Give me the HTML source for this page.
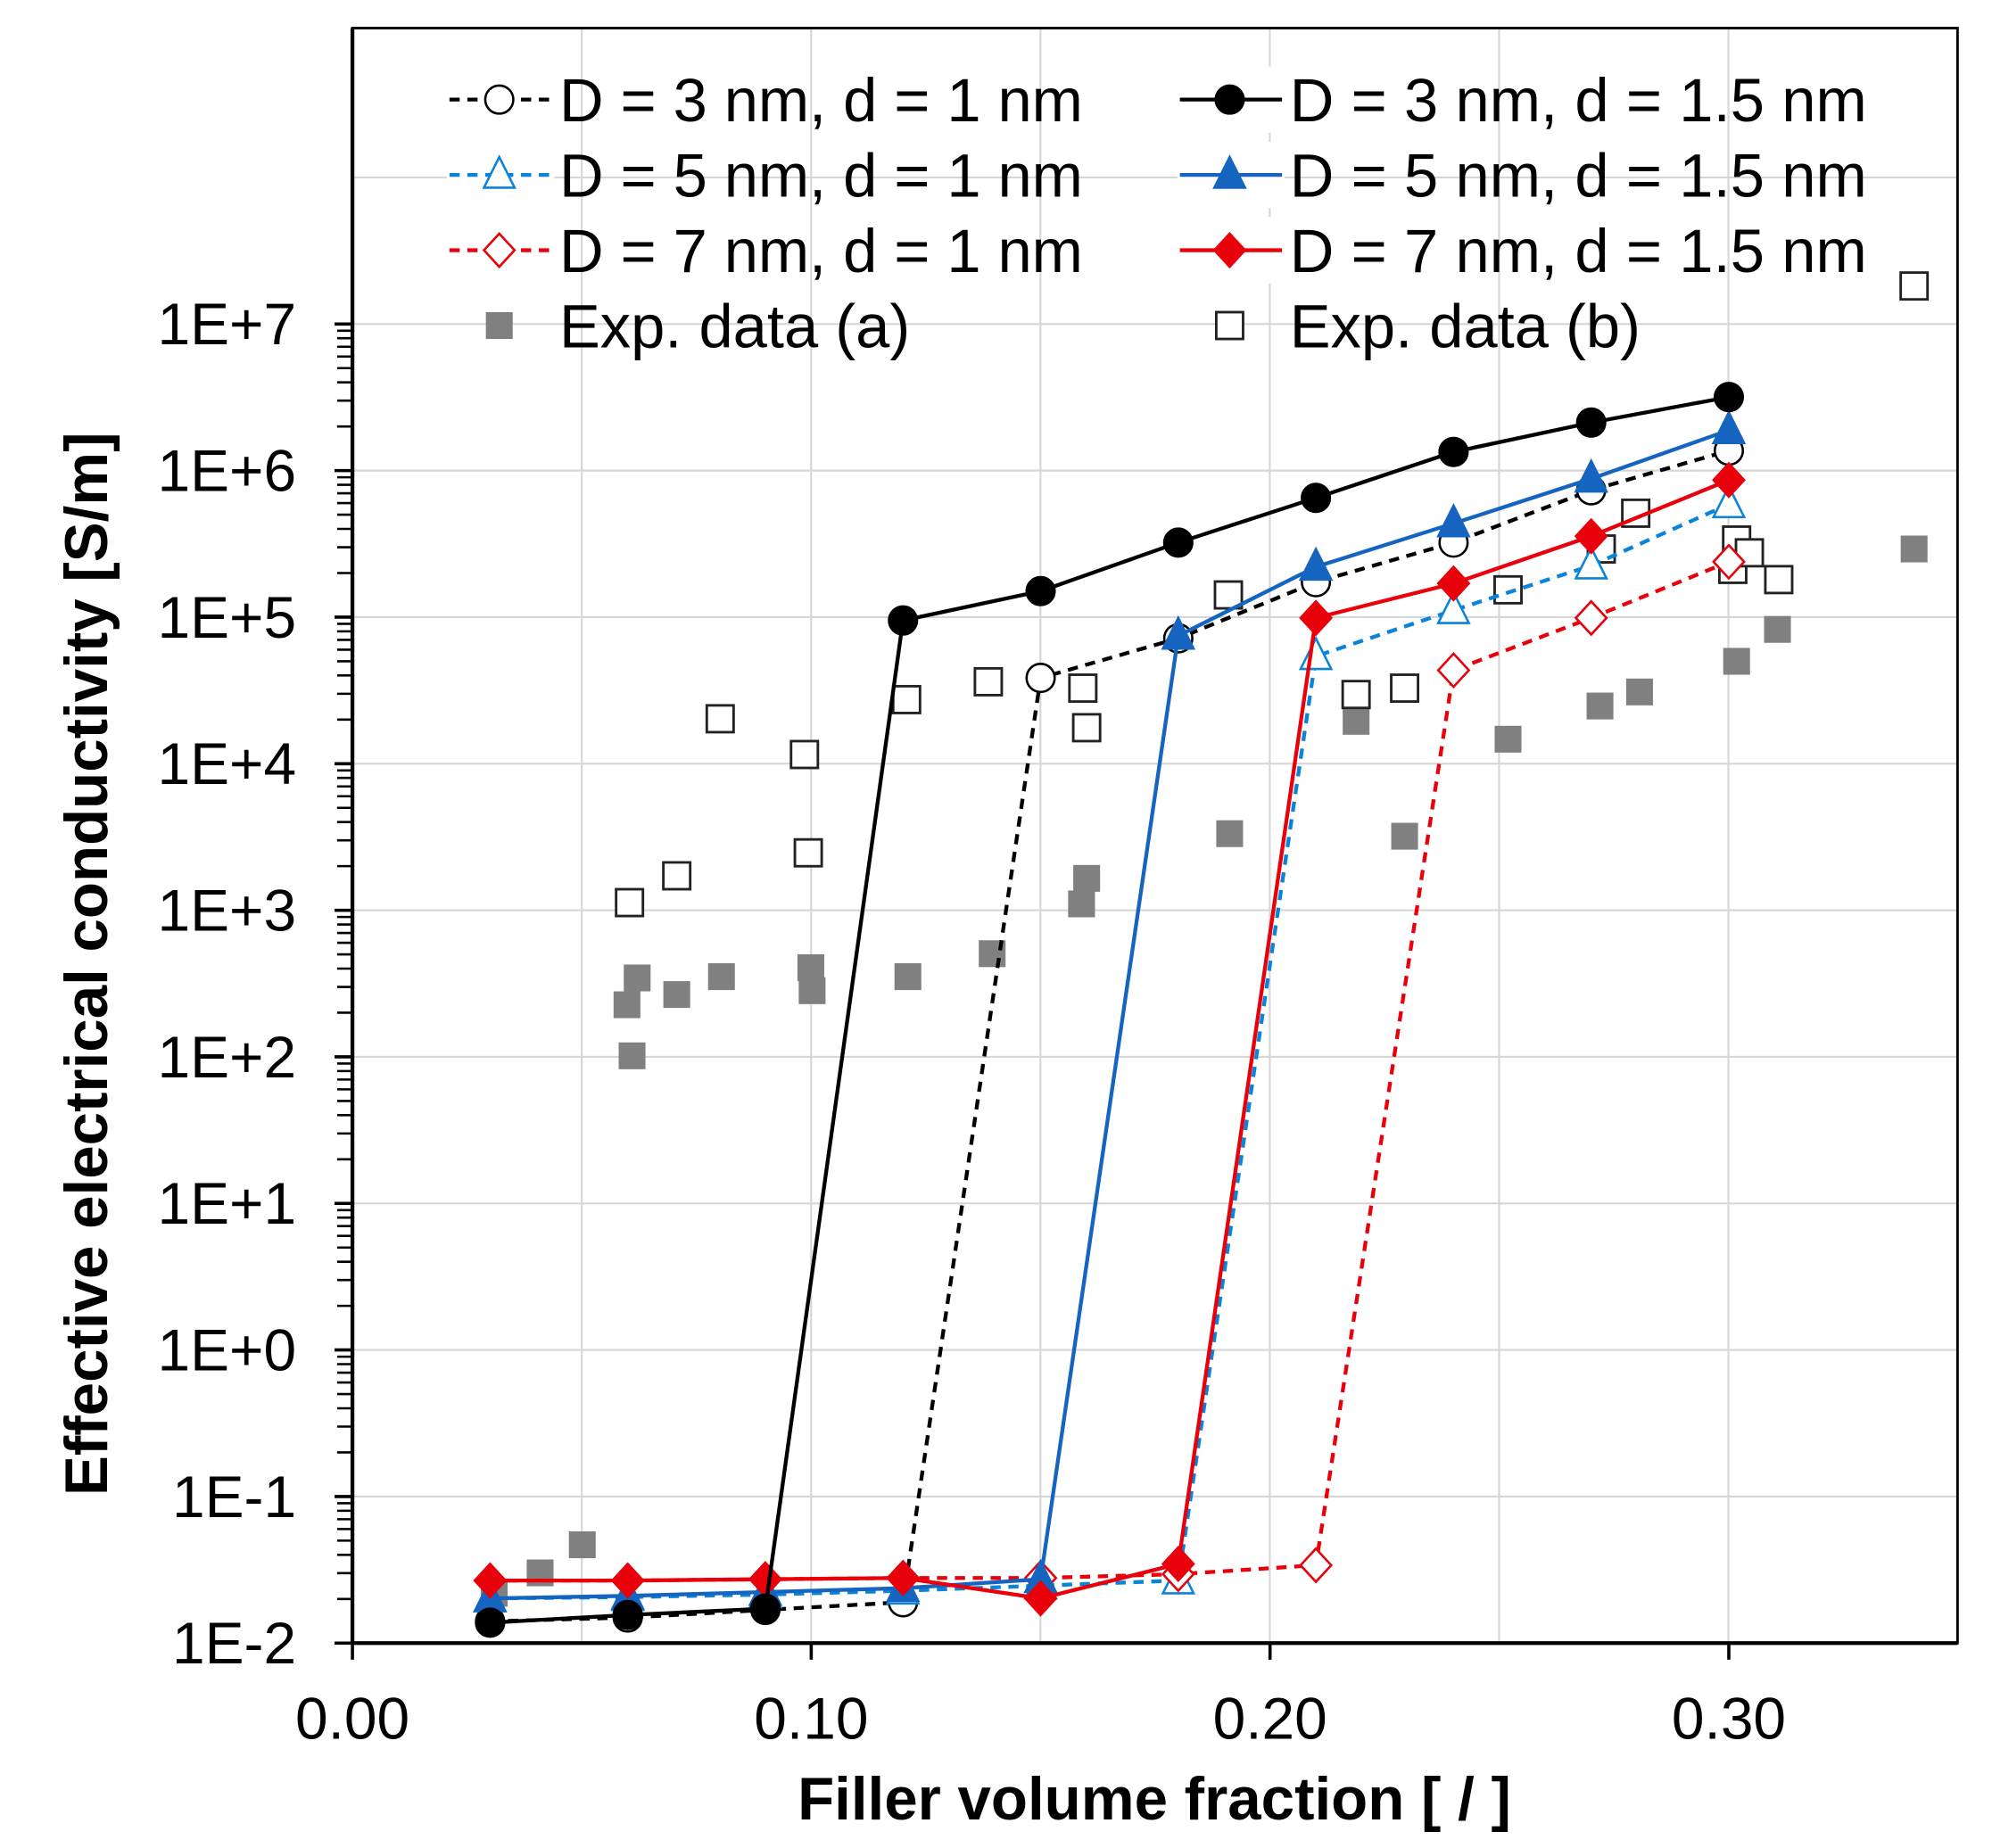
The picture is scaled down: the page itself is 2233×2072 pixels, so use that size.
<!DOCTYPE html>
<html><head><meta charset="utf-8"><style>html,body{margin:0;padding:0;background:#fff}svg{display:block}</style></head>
<body>
<svg id="s" xmlns="http://www.w3.org/2000/svg" width="2233" height="2072" viewBox="0 0 1560 1447.5" preserveAspectRatio="none" font-family="Liberation Sans, Arial, sans-serif"></svg>
<script>
var s=document.getElementById('s'),h='';
function X(v){return 276+v*3593;}
function Y(l){return 1287-(l+2)*114.8;}
for(var k=1;k<=7;k++){var gx=276+k*179.6;h+='<line x1="'+gx+'" y1="22" x2="'+gx+'" y2="1287" stroke="#d6d6d6" stroke-width="1.5"/>';}
for(var d=-1;d<=8;d++){var gy=Y(d);h+='<line x1="276" y1="'+gy+'" x2="1533" y2="'+gy+'" stroke="#d6d6d6" stroke-width="1.5"/>';}
h+='<rect x="276" y="22" width="1257" height="1265" fill="none" stroke="#000" stroke-width="2"/>';
h+='<line x1="276" y1="22" x2="276" y2="1287" stroke="#000" stroke-width="3"/><line x1="276" y1="1287" x2="1533" y2="1287" stroke="#000" stroke-width="3"/>';
for(var d=-2;d<=7;d++){var y0=Y(d);h+='<line x1="262" y1="'+y0+'" x2="276" y2="'+y0+'" stroke="#000" stroke-width="2.5"/>';
 if(d<7)for(var m=2;m<=9;m++){var ym=Y(d+Math.log10(m));h+='<line x1="264" y1="'+ym+'" x2="276" y2="'+ym+'" stroke="#000" stroke-width="1.8"/>';}
 var lab=d<0?'1E'+d:'1E+'+d;h+='<text x="232" y="'+(y0+16)+'" font-size="46" text-anchor="end">'+lab+'</text>';}
['0.00','0.10','0.20','0.30'].forEach(function(t,i){var x=276+i*359.3;h+='<line x1="'+x+'" y1="1287" x2="'+x+'" y2="1300" stroke="#000" stroke-width="2.5"/><text x="'+x+'" y="1362" font-size="46" text-anchor="middle">'+t+'</text>';});
h+='<text x="904" y="1425" font-size="47" font-weight="bold" text-anchor="middle">Filler volume fraction [ / ]</text>';
h+='<text transform="translate(84,755) rotate(-90)" font-size="47" font-weight="bold" text-anchor="middle">Effective electrical conductivity [S/m]</text>';
function sq(x,y,fill){return '<rect x="'+(x-10.5)+'" y="'+(y-10.5)+'" width="21" height="21" fill="'+fill+'" stroke="'+(fill=='#fff'?'#222':'none')+'" stroke-width="2"/>';}
[[387,1248],[423,1232],[456,1210],[491,787],[495,827],[499,766],[530,779],[565,765],[635,758],[636,776],[711,765],[777,747],[847,708],[851,688],[963,653],[1062,565],[1100,655],[1181,579],[1253,553],[1284,542],[1360,518],[1392,493],[1499,430]].forEach(function(p){h+=sq(p[0],p[1],'#808080');});
[[493,707],[530,686],[564,563],[630,591],[633,668],[710,548],[774,534],[848,539],[851,570],[962,466],[1062,544],[1100,539],[1181,462],[1254,430],[1281,402],[1357,446],[1360,423],[1370,433],[1393,454],[1499,224]].forEach(function(p){h+=sq(p[0],p[1],'#fff');});
var xs=[0.03,0.06,0.09,0.12,0.15,0.18,0.21,0.24,0.27,0.30];
function mk(t,x,y,c,open){var f=open?'#fff':c,st='stroke="'+c+'" stroke-width="1.8" fill="'+f+'"';
 if(t=='c')return '<circle cx="'+x+'" cy="'+y+'" r="11" '+st+'/>';
 if(t=='t')return '<polygon points="'+x+','+(y-14)+' '+(x+12)+','+(y+10)+' '+(x-12)+','+(y+10)+'" '+st+'/>';
 return '<polygon points="'+x+','+(y-13)+' '+(x+12)+','+y+' '+x+','+(y+13)+' '+(x-12)+','+y+'" '+st+'/>';}
var S=[
 {y:[1270,1267,1261,1255,531,500,456,425,384,353],c:'#000',m:'c',o:1,dash:1},
 {y:[1252,1251,1249,1246,1242,1238,514,478,443,395],c:'#0a84d8',m:'t',o:1,dash:1},
 {y:[1238,1238,1237,1236,1236,1233,1226,525,484,440],c:'#e8000b',m:'d',o:1,dash:1},
 {y:[1252,1250,1247,1244,1237,498,444,410,375,337],c:'#1565c0',m:'t',o:0},
 {y:[1238,1238,1237,1236,1252,1225,484,457,420,376],c:'#e8000b',m:'d',o:0},
 {y:[1271,1265,1260,486,463,425,390,354,331,311],c:'#000',m:'c',o:0}
];
S.forEach(function(sr){var pts=xs.map(function(v,i){return X(v)+','+sr.y[i];}).join(' ');
 h+='<polyline points="'+pts+'" fill="none" stroke="'+sr.c+'" stroke-width="3" '+(sr.dash?'stroke-dasharray="8,6"':'')+'/>';
 xs.forEach(function(v,i){h+=mk(sr.m,X(v),sr.y[i],sr.c,sr.o);});});
var L=[[352,78,'#000','c',1,1,'D = 3 nm, d = 1 nm'],[352,137,'#0a84d8','t',1,1,'D = 5 nm, d = 1 nm'],[352,196,'#e8000b','d',1,1,'D = 7 nm, d = 1 nm'],
 [924,78,'#000','c',0,0,'D = 3 nm, d = 1.5 nm'],[924,137,'#1565c0','t',0,0,'D = 5 nm, d = 1.5 nm'],[924,196,'#e8000b','d',0,0,'D = 7 nm, d = 1.5 nm']];
L.forEach(function(l){var x=l[0],y=l[1];h+='<rect x="'+(x-2)+'" y="'+(y-26)+'" width="84" height="52" fill="#fff"/><line x1="'+x+'" y1="'+y+'" x2="'+(x+80)+'" y2="'+y+'" stroke="'+l[2]+'" stroke-width="3" '+(l[5]?'stroke-dasharray="8,6"':'')+'/>'+mk(l[3],x+39,y,l[2],l[4])+'<text x="'+(x+86)+'" y="'+(y+17)+'" font-size="48" textLength="'+(l[6].length>18?452:410)+'">'+l[6]+'</text>';});
h+=sq(391,255,'#808080')+'<text x="438" y="272" font-size="48">Exp. data (a)</text>';
h+=sq(963,255,'#fff')+'<text x="1010" y="272" font-size="48">Exp. data (b)</text>';
s.innerHTML=h;
</script>
</body></html>
